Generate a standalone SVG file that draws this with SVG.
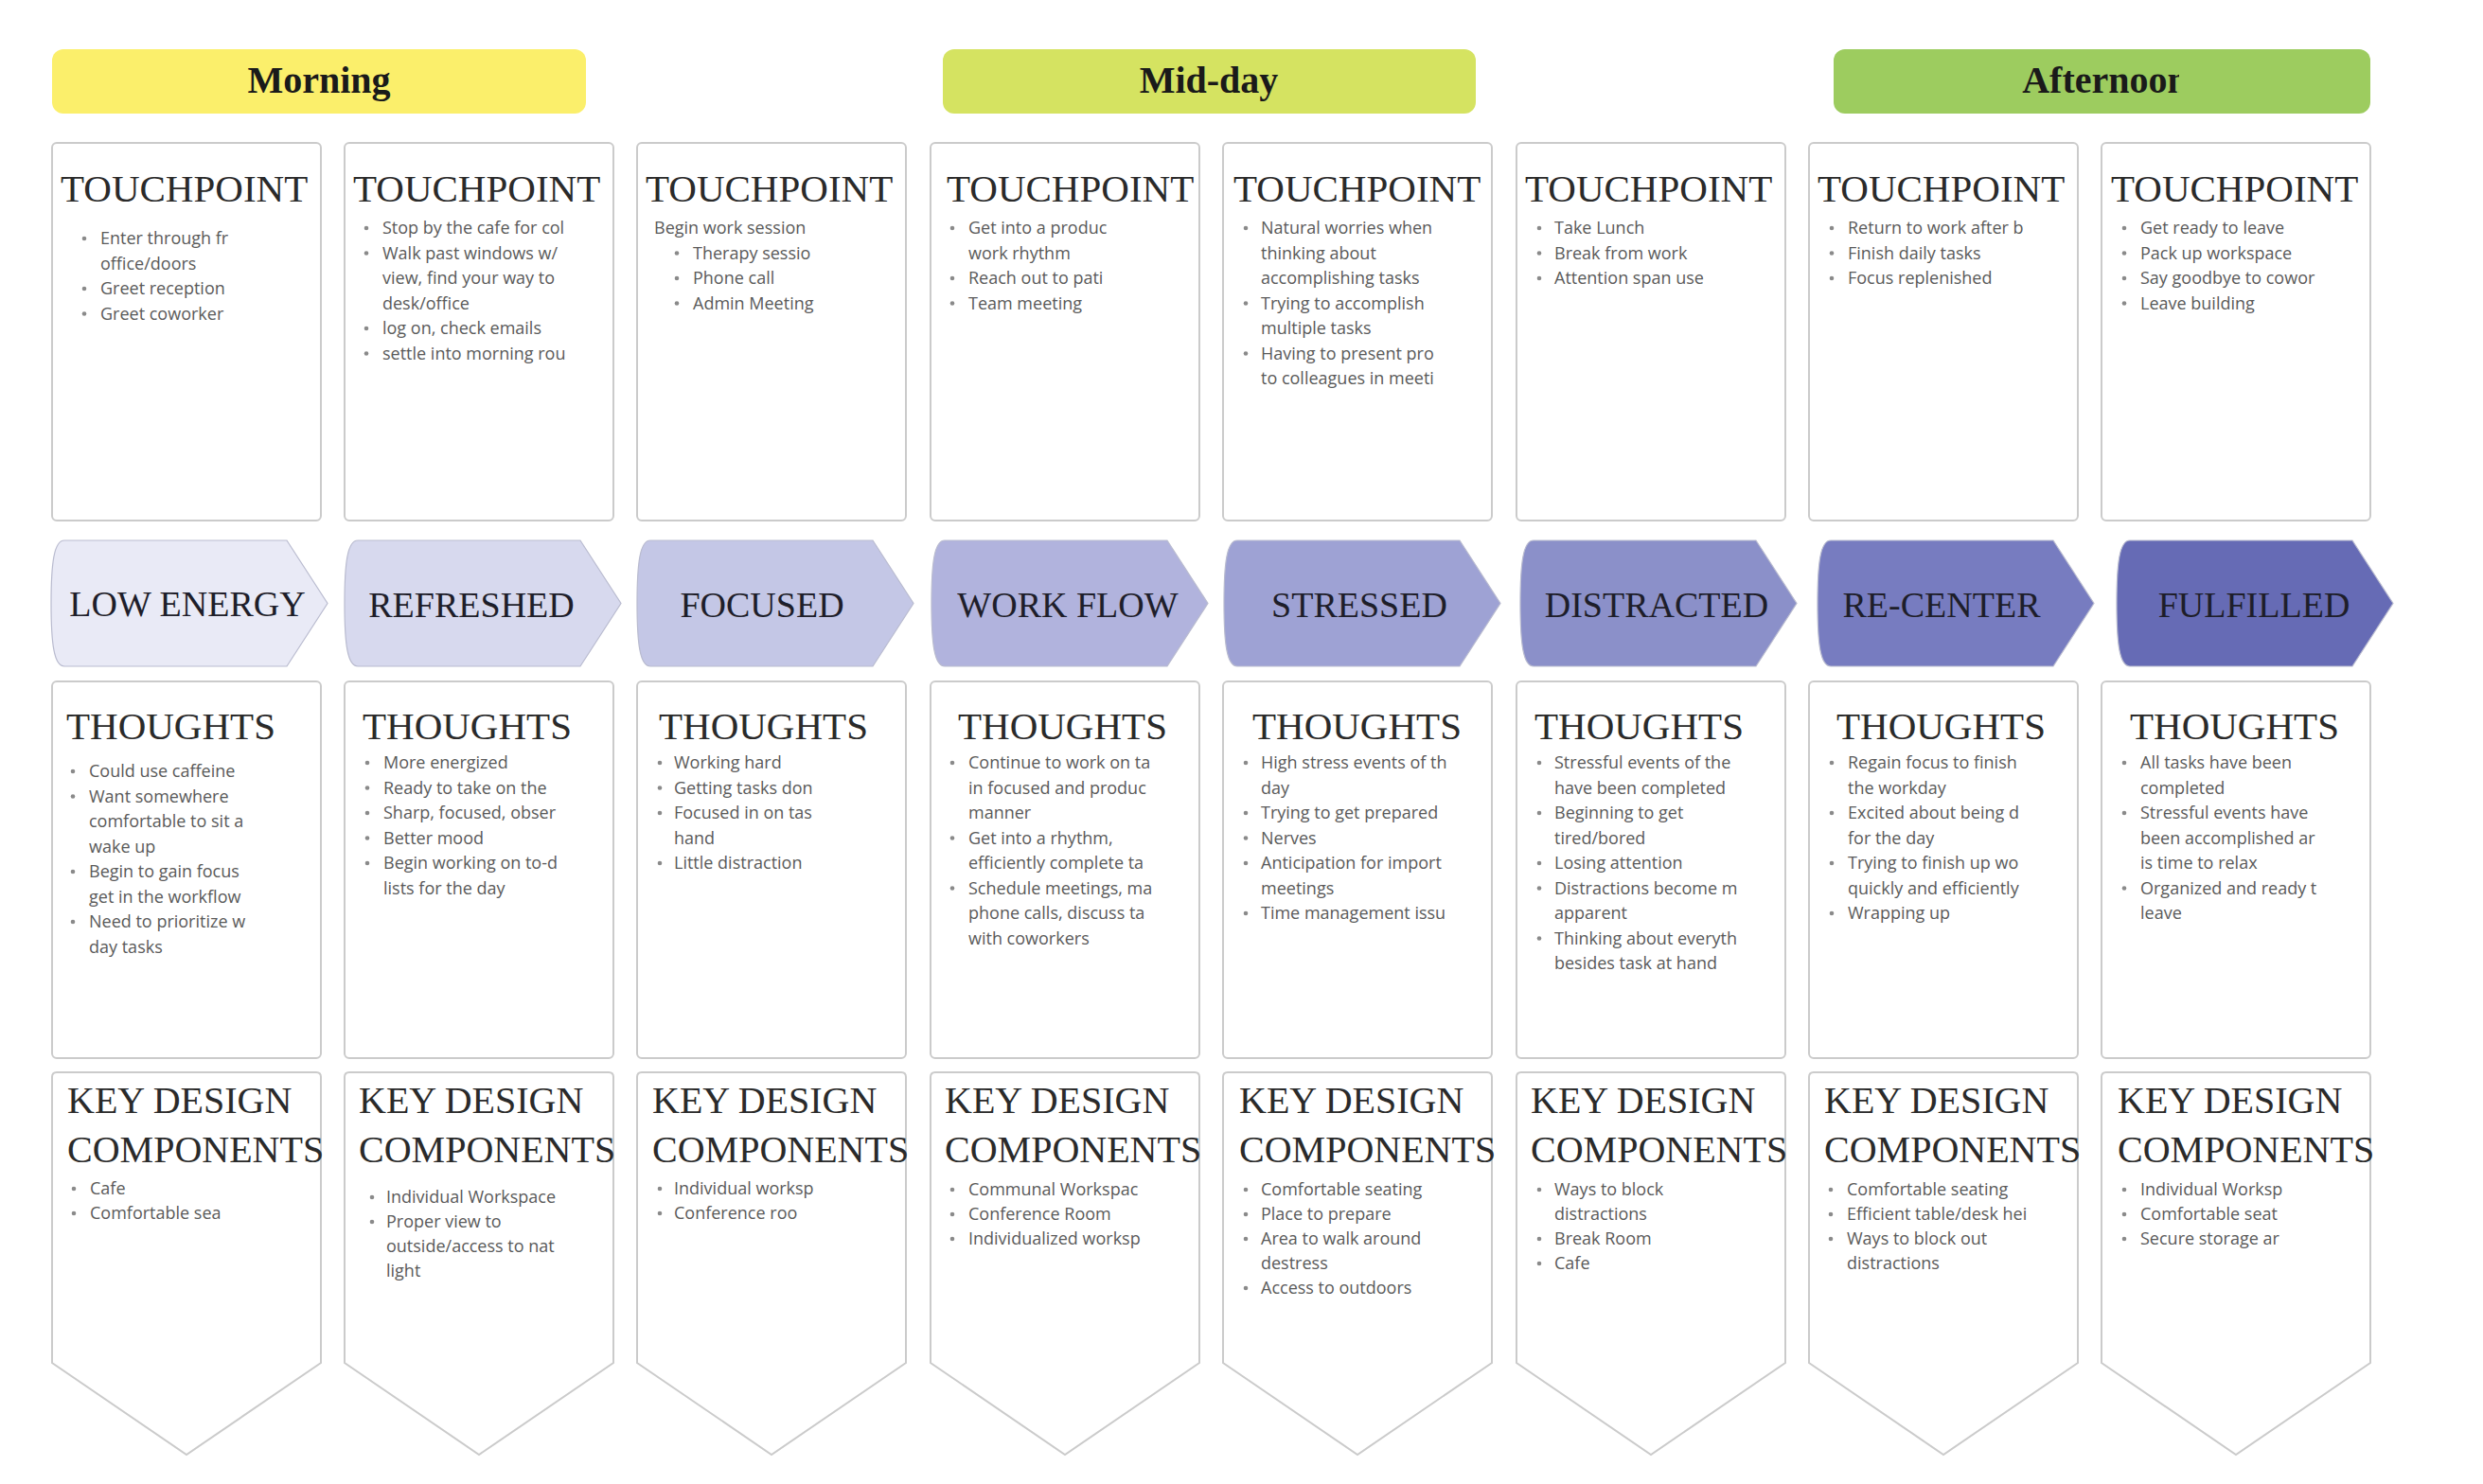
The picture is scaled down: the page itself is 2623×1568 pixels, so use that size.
<svg xmlns="http://www.w3.org/2000/svg" width="2623" height="1568" viewBox="0 0 2623 1568">
<style>
.band{font-family:"Liberation Serif",serif;font-weight:bold;font-size:40px;fill:#1a1a1a;text-anchor:middle}
.h{font-family:"Liberation Serif",serif;font-size:41px;fill:#2a2a2a}
.hk{font-family:"Liberation Serif",serif;font-size:40px;fill:#2a2a2a}
.emo{font-family:"Liberation Serif",serif;font-size:38px;fill:#1e1e2a;text-anchor:middle}
.t{font-family:"Open Sans","Liberation Sans",sans-serif;font-size:18px;fill:#5a5a5a}
.box{fill:#ffffff;stroke:#cbcbcb;stroke-width:2}
.dot{fill:#8a8a8a}
.chev{stroke:#b9bbcf;stroke-width:1.2}
</style>
<rect width="2623" height="1568" fill="#ffffff"/>
<defs>
<clipPath id="clipAft"><rect x="1937" y="52" width="365" height="68"/></clipPath>
</defs>

<g id="phase-morning"><rect x="55" y="52" width="564" height="68" rx="12" fill="#fbef6b"/><text class="band" x="337" y="98">Morning</text></g>
<g id="phase-midday"><rect x="996" y="52" width="563" height="68" rx="12" fill="#d5e361"/><text class="band" x="1277" y="98">Mid-day</text></g>
<g id="phase-afternoon"><rect x="1937" y="52" width="567" height="68" rx="12" fill="#9dcc5f"/><text class="band" x="2224" y="98" clip-path="url(#clipAft)">Afternoon</text></g>

<g id="connectors"></g>

<!-- TOUCHPOINTS -->
<g id="tp1"><rect class="box" x="55" y="151" width="284" height="399" rx="5"/>
<text class="h" x="64" y="213">TOUCHPOINT</text>
<circle class="dot" cx="89" cy="252" r="2.3"/><text class="t" x="106" y="258">Enter through fr</text>
<text class="t" x="106" y="284.5">office/doors</text>
<circle class="dot" cx="89" cy="305" r="2.3"/><text class="t" x="106" y="311">Greet reception</text>
<circle class="dot" cx="89" cy="331.5" r="2.3"/><text class="t" x="106" y="337.5">Greet coworker</text>
</g>
<g id="tp2"><rect class="box" x="364" y="151" width="284" height="399" rx="5"/>
<text class="h" x="373" y="213">TOUCHPOINT</text>
<circle class="dot" cx="387" cy="241" r="2.3"/><text class="t" x="404" y="247">Stop by the cafe for col</text>
<circle class="dot" cx="387" cy="267.5" r="2.3"/><text class="t" x="404" y="273.5">Walk past windows w/</text>
<text class="t" x="404" y="300">view, find your way to</text>
<text class="t" x="404" y="326.5">desk/office</text>
<circle class="dot" cx="387" cy="347" r="2.3"/><text class="t" x="404" y="353">log on, check emails</text>
<circle class="dot" cx="387" cy="373.5" r="2.3"/><text class="t" x="404" y="379.5">settle into morning rou</text>
</g>
<g id="tp3"><rect class="box" x="673" y="151" width="284" height="399" rx="5"/>
<text class="h" x="682" y="213">TOUCHPOINT</text>
<text class="t" x="691" y="247">Begin work session</text>
<circle class="dot" cx="715" cy="267.5" r="2.3"/><text class="t" x="732" y="273.5">Therapy sessio</text>
<circle class="dot" cx="715" cy="294" r="2.3"/><text class="t" x="732" y="300">Phone call</text>
<circle class="dot" cx="715" cy="320.5" r="2.3"/><text class="t" x="732" y="326.5">Admin Meeting</text>
</g>
<g id="tp4"><rect class="box" x="983" y="151" width="284" height="399" rx="5"/>
<text class="h" x="1000" y="213">TOUCHPOINT</text>
<circle class="dot" cx="1006" cy="241" r="2.3"/><text class="t" x="1023" y="247">Get into a produc</text>
<text class="t" x="1023" y="273.5">work rhythm</text>
<circle class="dot" cx="1006" cy="294" r="2.3"/><text class="t" x="1023" y="300">Reach out to pati</text>
<circle class="dot" cx="1006" cy="320.5" r="2.3"/><text class="t" x="1023" y="326.5">Team meeting</text>
</g>
<g id="tp5"><rect class="box" x="1292" y="151" width="284" height="399" rx="5"/>
<text class="h" x="1303" y="213">TOUCHPOINT</text>
<circle class="dot" cx="1316" cy="241" r="2.3"/><text class="t" x="1332" y="247">Natural worries when</text>
<text class="t" x="1332" y="273.5">thinking about</text>
<text class="t" x="1332" y="300">accomplishing tasks</text>
<circle class="dot" cx="1316" cy="320.5" r="2.3"/><text class="t" x="1332" y="326.5">Trying to accomplish</text>
<text class="t" x="1332" y="353">multiple tasks</text>
<circle class="dot" cx="1316" cy="373.5" r="2.3"/><text class="t" x="1332" y="379.5">Having to present pro</text>
<text class="t" x="1332" y="406">to colleagues in meeti</text>
</g>
<g id="tp6"><rect class="box" x="1602" y="151" width="284" height="399" rx="5"/>
<text class="h" x="1611" y="213">TOUCHPOINT</text>
<circle class="dot" cx="1626" cy="241" r="2.3"/><text class="t" x="1642" y="247">Take Lunch</text>
<circle class="dot" cx="1626" cy="267.5" r="2.3"/><text class="t" x="1642" y="273.5">Break from work</text>
<circle class="dot" cx="1626" cy="294" r="2.3"/><text class="t" x="1642" y="300">Attention span use</text>
</g>
<g id="tp7"><rect class="box" x="1911" y="151" width="284" height="399" rx="5"/>
<text class="h" x="1920" y="213">TOUCHPOINT</text>
<circle class="dot" cx="1935" cy="241" r="2.3"/><text class="t" x="1952" y="247">Return to work after b</text>
<circle class="dot" cx="1935" cy="267.5" r="2.3"/><text class="t" x="1952" y="273.5">Finish daily tasks</text>
<circle class="dot" cx="1935" cy="294" r="2.3"/><text class="t" x="1952" y="300">Focus replenished</text>
</g>
<g id="tp8"><rect class="box" x="2220" y="151" width="284" height="399" rx="5"/>
<text class="h" x="2230" y="213">TOUCHPOINT</text>
<circle class="dot" cx="2244" cy="241" r="2.3"/><text class="t" x="2261" y="247">Get ready to leave</text>
<circle class="dot" cx="2244" cy="267.5" r="2.3"/><text class="t" x="2261" y="273.5">Pack up workspace</text>
<circle class="dot" cx="2244" cy="294" r="2.3"/><text class="t" x="2261" y="300">Say goodbye to cowor</text>
<circle class="dot" cx="2244" cy="320.5" r="2.3"/><text class="t" x="2261" y="326.5">Leave building</text>
</g>

<!-- EMOTIONS -->
<g id="emo1"><path class="chev" fill="#e9eaf6" d="M68,571 H303 L346,637.5 L303,704 H68 C57,704 54,680 54,637.5 C54,595 57,571 68,571 Z"/><text class="emo" x="198" y="651">LOW ENERGY</text></g>
<g id="emo2"><path class="chev" fill="#d7d9ee" d="M378,571 H613 L656,637.5 L613,704 H378 C367,704 364,680 364,637.5 C364,595 367,571 378,571 Z"/><text class="emo" x="498" y="652">REFRESHED</text></g>
<g id="emo3"><path class="chev" fill="#c4c7e6" d="M687,571 H922 L965,637.5 L922,704 H687 C676,704 673,680 673,637.5 C673,595 676,571 687,571 Z"/><text class="emo" x="805" y="652">FOCUSED</text></g>
<g id="emo4"><path class="chev" fill="#b1b3dd" d="M998,571 H1233 L1276,637.5 L1233,704 H998 C987,704 984,680 984,637.5 C984,595 987,571 998,571 Z"/><text class="emo" x="1128" y="652">WORK FLOW</text></g>
<g id="emo5"><path class="chev" fill="#9ea2d4" d="M1307,571 H1542 L1585,637.5 L1542,704 H1307 C1296,704 1293,680 1293,637.5 C1293,595 1296,571 1307,571 Z"/><text class="emo" x="1436" y="652">STRESSED</text></g>
<g id="emo6"><path class="chev" fill="#8b90c9" d="M1620,571 H1855 L1898,637.5 L1855,704 H1620 C1609,704 1606,680 1606,637.5 C1606,595 1609,571 1620,571 Z"/><text class="emo" x="1750" y="652">DISTRACTED</text></g>
<g id="emo7"><path class="chev" fill="#777cc0" d="M1934,571 H2169 L2212,637.5 L2169,704 H1934 C1923,704 1920,680 1920,637.5 C1920,595 1923,571 1934,571 Z"/><text class="emo" x="2051" y="652">RE-CENTER</text></g>
<g id="emo8"><path class="chev" fill="#666bb5" d="M2250,571 H2485 L2528,637.5 L2485,704 H2250 C2239,704 2236,680 2236,637.5 C2236,595 2239,571 2250,571 Z"/><text class="emo" x="2381" y="652">FULFILLED</text></g>

<!-- THOUGHTS -->
<g id="th1"><rect class="box" x="55" y="720" width="284" height="398" rx="5"/>
<text class="h" x="70" y="781">THOUGHTS</text>
<circle class="dot" cx="77" cy="815" r="2.3"/><text class="t" x="94" y="821">Could use caffeine</text>
<circle class="dot" cx="77" cy="841.5" r="2.3"/><text class="t" x="94" y="847.5">Want somewhere</text>
<text class="t" x="94" y="874">comfortable to sit a</text>
<text class="t" x="94" y="900.5">wake up</text>
<circle class="dot" cx="77" cy="921" r="2.3"/><text class="t" x="94" y="927">Begin to gain focus</text>
<text class="t" x="94" y="953.5">get in the workflow</text>
<circle class="dot" cx="77" cy="974" r="2.3"/><text class="t" x="94" y="980">Need to prioritize w</text>
<text class="t" x="94" y="1006.5">day tasks</text>
</g>
<g id="th2"><rect class="box" x="364" y="720" width="284" height="398" rx="5"/>
<text class="h" x="383" y="781">THOUGHTS</text>
<circle class="dot" cx="388" cy="806" r="2.3"/><text class="t" x="405" y="812">More energized</text>
<circle class="dot" cx="388" cy="832.5" r="2.3"/><text class="t" x="405" y="838.5">Ready to take on the</text>
<circle class="dot" cx="388" cy="859" r="2.3"/><text class="t" x="405" y="865">Sharp, focused, obser</text>
<circle class="dot" cx="388" cy="885.5" r="2.3"/><text class="t" x="405" y="891.5">Better mood</text>
<circle class="dot" cx="388" cy="912" r="2.3"/><text class="t" x="405" y="918">Begin working on to-d</text>
<text class="t" x="405" y="944.5">lists for the day</text>
</g>
<g id="th3"><rect class="box" x="673" y="720" width="284" height="398" rx="5"/>
<text class="h" x="696" y="781">THOUGHTS</text>
<circle class="dot" cx="697" cy="806" r="2.3"/><text class="t" x="712" y="812">Working hard</text>
<circle class="dot" cx="697" cy="832.5" r="2.3"/><text class="t" x="712" y="838.5">Getting tasks don</text>
<circle class="dot" cx="697" cy="859" r="2.3"/><text class="t" x="712" y="865">Focused in on tas</text>
<text class="t" x="712" y="891.5">hand</text>
<circle class="dot" cx="697" cy="912" r="2.3"/><text class="t" x="712" y="918">Little distraction</text>
</g>
<g id="th4"><rect class="box" x="983" y="720" width="284" height="398" rx="5"/>
<text class="h" x="1012" y="781">THOUGHTS</text>
<circle class="dot" cx="1006" cy="806" r="2.3"/><text class="t" x="1023" y="812">Continue to work on ta</text>
<text class="t" x="1023" y="838.5">in focused and produc</text>
<text class="t" x="1023" y="865">manner</text>
<circle class="dot" cx="1006" cy="885.5" r="2.3"/><text class="t" x="1023" y="891.5">Get into a rhythm,</text>
<text class="t" x="1023" y="918">efficiently complete ta</text>
<circle class="dot" cx="1006" cy="938.5" r="2.3"/><text class="t" x="1023" y="944.5">Schedule meetings, ma</text>
<text class="t" x="1023" y="971">phone calls, discuss ta</text>
<text class="t" x="1023" y="997.5">with coworkers</text>
</g>
<g id="th5"><rect class="box" x="1292" y="720" width="284" height="398" rx="5"/>
<text class="h" x="1323" y="781">THOUGHTS</text>
<circle class="dot" cx="1316" cy="806" r="2.3"/><text class="t" x="1332" y="812">High stress events of th</text>
<text class="t" x="1332" y="838.5">day</text>
<circle class="dot" cx="1316" cy="859" r="2.3"/><text class="t" x="1332" y="865">Trying to get prepared</text>
<circle class="dot" cx="1316" cy="885.5" r="2.3"/><text class="t" x="1332" y="891.5">Nerves</text>
<circle class="dot" cx="1316" cy="912" r="2.3"/><text class="t" x="1332" y="918">Anticipation for import</text>
<text class="t" x="1332" y="944.5">meetings</text>
<circle class="dot" cx="1316" cy="965" r="2.3"/><text class="t" x="1332" y="971">Time management issu</text>
</g>
<g id="th6"><rect class="box" x="1602" y="720" width="284" height="398" rx="5"/>
<text class="h" x="1621" y="781">THOUGHTS</text>
<circle class="dot" cx="1626" cy="806" r="2.3"/><text class="t" x="1642" y="812">Stressful events of the</text>
<text class="t" x="1642" y="838.5">have been completed</text>
<circle class="dot" cx="1626" cy="859" r="2.3"/><text class="t" x="1642" y="865">Beginning to get</text>
<text class="t" x="1642" y="891.5">tired/bored</text>
<circle class="dot" cx="1626" cy="912" r="2.3"/><text class="t" x="1642" y="918">Losing attention</text>
<circle class="dot" cx="1626" cy="938.5" r="2.3"/><text class="t" x="1642" y="944.5">Distractions become m</text>
<text class="t" x="1642" y="971">apparent</text>
<circle class="dot" cx="1626" cy="991.5" r="2.3"/><text class="t" x="1642" y="997.5">Thinking about everyth</text>
<text class="t" x="1642" y="1024">besides task at hand</text>
</g>
<g id="th7"><rect class="box" x="1911" y="720" width="284" height="398" rx="5"/>
<text class="h" x="1940" y="781">THOUGHTS</text>
<circle class="dot" cx="1935" cy="806" r="2.3"/><text class="t" x="1952" y="812">Regain focus to finish</text>
<text class="t" x="1952" y="838.5">the workday</text>
<circle class="dot" cx="1935" cy="859" r="2.3"/><text class="t" x="1952" y="865">Excited about being d</text>
<text class="t" x="1952" y="891.5">for the day</text>
<circle class="dot" cx="1935" cy="912" r="2.3"/><text class="t" x="1952" y="918">Trying to finish up wo</text>
<text class="t" x="1952" y="944.5">quickly and efficiently</text>
<circle class="dot" cx="1935" cy="965" r="2.3"/><text class="t" x="1952" y="971">Wrapping up</text>
</g>
<g id="th8"><rect class="box" x="2220" y="720" width="284" height="398" rx="5"/>
<text class="h" x="2250" y="781">THOUGHTS</text>
<circle class="dot" cx="2244" cy="806" r="2.3"/><text class="t" x="2261" y="812">All tasks have been</text>
<text class="t" x="2261" y="838.5">completed</text>
<circle class="dot" cx="2244" cy="859" r="2.3"/><text class="t" x="2261" y="865">Stressful events have</text>
<text class="t" x="2261" y="891.5">been accomplished ar</text>
<text class="t" x="2261" y="918">is time to relax</text>
<circle class="dot" cx="2244" cy="938.5" r="2.3"/><text class="t" x="2261" y="944.5">Organized and ready t</text>
<text class="t" x="2261" y="971">leave</text>
</g>

<!-- KEY DESIGN COMPONENTS -->
<g id="kd1"><path class="box" d="M55,1138 Q55,1133 60,1133 H334 Q339,1133 339,1138 V1440 L197,1537 L55,1440 Z"/>
<text class="hk" x="71" y="1176">KEY DESIGN</text><text class="hk" x="71" y="1228">COMPONENTS</text>
<circle class="dot" cx="78" cy="1256" r="2.3"/><text class="t" x="95" y="1262">Cafe</text>
<circle class="dot" cx="78" cy="1282" r="2.3"/><text class="t" x="95" y="1288">Comfortable sea</text>
</g>
<g id="kd2"><path class="box" d="M364,1138 Q364,1133 369,1133 H643 Q648,1133 648,1138 V1440 L506,1537 L364,1440 Z"/>
<text class="hk" x="379" y="1176">KEY DESIGN</text><text class="hk" x="379" y="1228">COMPONENTS</text>
<circle class="dot" cx="393" cy="1265" r="2.3"/><text class="t" x="408" y="1271">Individual Workspace</text>
<circle class="dot" cx="393" cy="1291" r="2.3"/><text class="t" x="408" y="1297">Proper view to</text>
<text class="t" x="408" y="1323">outside/access to nat</text>
<text class="t" x="408" y="1349">light</text>
</g>
<g id="kd3"><path class="box" d="M673,1138 Q673,1133 678,1133 H952 Q957,1133 957,1138 V1440 L815,1537 L673,1440 Z"/>
<text class="hk" x="689" y="1176">KEY DESIGN</text><text class="hk" x="689" y="1228">COMPONENTS</text>
<circle class="dot" cx="697" cy="1256" r="2.3"/><text class="t" x="712" y="1262">Individual worksp</text>
<circle class="dot" cx="697" cy="1282" r="2.3"/><text class="t" x="712" y="1288">Conference roo</text>
</g>
<g id="kd4"><path class="box" d="M983,1138 Q983,1133 988,1133 H1262 Q1267,1133 1267,1138 V1440 L1125,1537 L983,1440 Z"/>
<text class="hk" x="998" y="1176">KEY DESIGN</text><text class="hk" x="998" y="1228">COMPONENTS</text>
<circle class="dot" cx="1006" cy="1257" r="2.3"/><text class="t" x="1023" y="1263">Communal Workspac</text>
<circle class="dot" cx="1006" cy="1283" r="2.3"/><text class="t" x="1023" y="1289">Conference Room</text>
<circle class="dot" cx="1006" cy="1309" r="2.3"/><text class="t" x="1023" y="1315">Individualized worksp</text>
</g>
<g id="kd5"><path class="box" d="M1292,1138 Q1292,1133 1297,1133 H1571 Q1576,1133 1576,1138 V1440 L1434,1537 L1292,1440 Z"/>
<text class="hk" x="1309" y="1176">KEY DESIGN</text><text class="hk" x="1309" y="1228">COMPONENTS</text>
<circle class="dot" cx="1316" cy="1257" r="2.3"/><text class="t" x="1332" y="1263">Comfortable seating</text>
<circle class="dot" cx="1316" cy="1283" r="2.3"/><text class="t" x="1332" y="1289">Place to prepare</text>
<circle class="dot" cx="1316" cy="1309" r="2.3"/><text class="t" x="1332" y="1315">Area to walk around</text>
<text class="t" x="1332" y="1341">destress</text>
<circle class="dot" cx="1316" cy="1361" r="2.3"/><text class="t" x="1332" y="1367">Access to outdoors</text>
</g>
<g id="kd6"><path class="box" d="M1602,1138 Q1602,1133 1607,1133 H1881 Q1886,1133 1886,1138 V1440 L1744,1537 L1602,1440 Z"/>
<text class="hk" x="1617" y="1176">KEY DESIGN</text><text class="hk" x="1617" y="1228">COMPONENTS</text>
<circle class="dot" cx="1626" cy="1257" r="2.3"/><text class="t" x="1642" y="1263">Ways to block</text>
<text class="t" x="1642" y="1289">distractions</text>
<circle class="dot" cx="1626" cy="1309" r="2.3"/><text class="t" x="1642" y="1315">Break Room</text>
<circle class="dot" cx="1626" cy="1335" r="2.3"/><text class="t" x="1642" y="1341">Cafe</text>
</g>
<g id="kd7"><path class="box" d="M1911,1138 Q1911,1133 1916,1133 H2190 Q2195,1133 2195,1138 V1440 L2053,1537 L1911,1440 Z"/>
<text class="hk" x="1927" y="1176">KEY DESIGN</text><text class="hk" x="1927" y="1228">COMPONENTS</text>
<circle class="dot" cx="1934" cy="1257" r="2.3"/><text class="t" x="1951" y="1263">Comfortable seating</text>
<circle class="dot" cx="1934" cy="1283" r="2.3"/><text class="t" x="1951" y="1289">Efficient table/desk hei</text>
<circle class="dot" cx="1934" cy="1309" r="2.3"/><text class="t" x="1951" y="1315">Ways to block out</text>
<text class="t" x="1951" y="1341">distractions</text>
</g>
<g id="kd8"><path class="box" d="M2220,1138 Q2220,1133 2225,1133 H2499 Q2504,1133 2504,1138 V1440 L2362,1537 L2220,1440 Z"/>
<text class="hk" x="2237" y="1176">KEY DESIGN</text><text class="hk" x="2237" y="1228">COMPONENTS</text>
<circle class="dot" cx="2244" cy="1257" r="2.3"/><text class="t" x="2261" y="1263">Individual Worksp</text>
<circle class="dot" cx="2244" cy="1283" r="2.3"/><text class="t" x="2261" y="1289">Comfortable seat</text>
<circle class="dot" cx="2244" cy="1309" r="2.3"/><text class="t" x="2261" y="1315">Secure storage ar</text>
</g>
</svg>
